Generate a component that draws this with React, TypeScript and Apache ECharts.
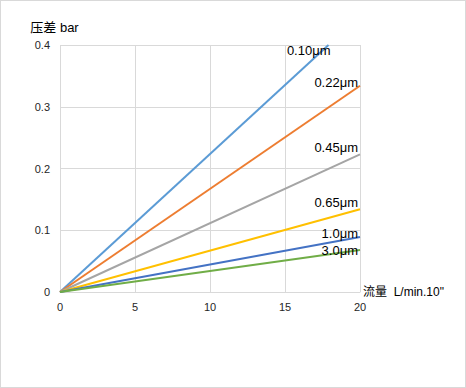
import React, { useEffect, useRef } from "react";
import * as echarts from "echarts";

const seriesNames = ["0.10μm", "0.22μm", "0.45μm", "0.65μm", "1.0μm", "3.0μm"];
const seriesColors = ["#5B9BD5", "#ED7D31", "#A5A5A5", "#FFC000", "#4472C4", "#70AD47"];
// [flow, pressure] pairs: start and end of each line
const line010 = [[0, 0], [17.9, 0.4]];
const line022 = [[0, 0], [20, 0.334]];
const line045 = [[0, 0], [20, 0.223]];
const line065 = [[0, 0], [20, 0.134]];
const line10 = [[0, 0], [20, 0.089]];
const line30 = [[0, 0], [20, 0.068]];
const seriesData = [line010, line022, line045, line065, line10, line30];
const labelOffsets = [[-6, 12], [-10, 3], [-10, 0], [-10, 0], [-10, 3], [-10, 7]];

const xTicks = { min: 0, max: 20, interval: 5 };
const yTicks = { min: 0, max: 0.4, interval: 0.1 };

export default function App() {
  const ref = useRef<HTMLDivElement>(null);
  useEffect(() => {
    const chart = echarts.init(ref.current!, null, { renderer: "svg" });
    const font = "'Liberation Sans', 'Noto Sans CJK SC', sans-serif";
    chart.setOption({
      animation: false,
      textStyle: { fontFamily: font },
      grid: { left: 59, top: 44, right: 105, bottom: 95 },
      xAxis: {
        type: "value",
        ...xTicks,
        name: '流量  L/min.10"',
        nameLocation: "end",
        nameGap: 3,
        nameTextStyle: { color: "#000", fontSize: 12, fontFamily: font },
        axisLine: { show: true, lineStyle: { color: "#d9d9d9", width: 1 } },
        axisTick: { show: false },
        axisLabel: { color: "#262626", fontSize: 11, margin: 9 },
        splitLine: { show: true, lineStyle: { color: "#d9d9d9", width: 1 } },
      },
      yAxis: {
        type: "value",
        ...yTicks,
        name: "压差 bar",
        nameLocation: "end",
        nameGap: 11,
        nameTextStyle: { color: "#000", fontSize: 13, align: "center", padding: [0, 11, 0, 0], fontFamily: font },
        axisLine: { show: false },
        axisTick: { show: false },
        axisLabel: { color: "#262626", fontSize: 11, margin: 10 },
        splitLine: { show: true, lineStyle: { color: "#d9d9d9", width: 1 } },
      },
      series: seriesNames.map((name, i) => ({
        name,
        type: "line",
        data: seriesData[i],
        symbol: "none",
        lineStyle: { color: seriesColors[i], width: 2 },
        itemStyle: { color: seriesColors[i] },
        endLabel: {
          show: true,
          formatter: name,
          align: "right",
          verticalAlign: "bottom",
          offset: labelOffsets[i],
          color: "#000",
          fontSize: 13,
          fontFamily: font,
        },
      })),
    });
    return () => chart.dispose();
  }, []);
  return (
    <div
      style={{
        position: "fixed",
        left: 0,
        top: 0,
        width: 466,
        height: 388,
        border: "1px solid #d9d9d9",
        boxSizing: "border-box",
        background: "#fff",
      }}
    >
      <div ref={ref} style={{ width: 464, height: 386 }} />
    </div>
  );
}
